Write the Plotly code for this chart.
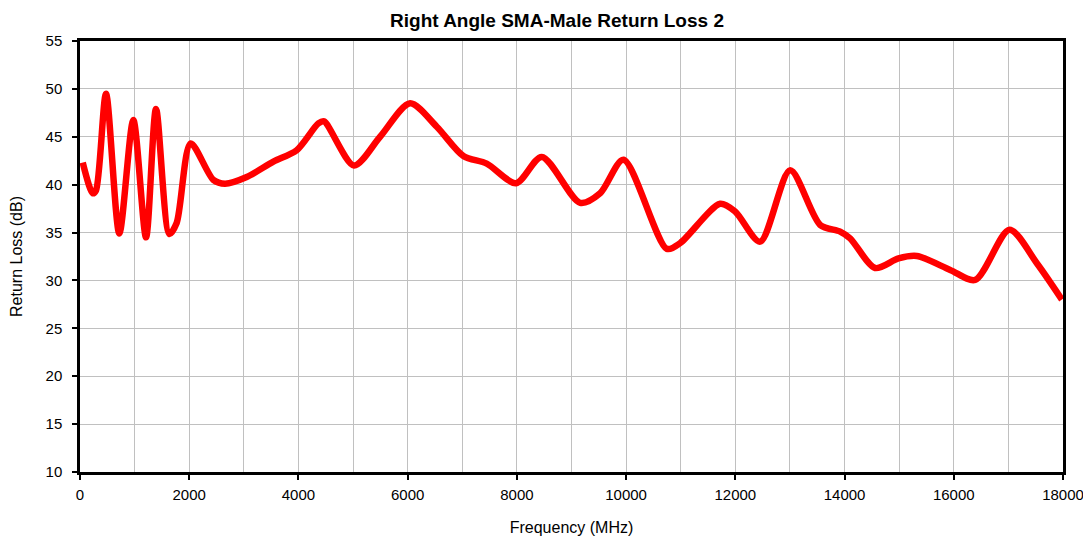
import plotly.graph_objects as go

freq_mhz = [50, 232, 293, 476, 720, 976, 1209, 1392, 1636, 1770, 2027, 2442, 2656,
            3053, 3541, 3968, 4365, 4469, 5018, 5495, 6044, 6533, 7020, 7448, 7985,
            8455, 9158, 9524, 9951, 10745, 10989, 11722, 11996, 12454, 13004, 13553,
            13919, 14102, 14560, 14987, 15323, 15934, 16392, 17020, 17521, 17980]
return_loss_db = [42.3, 39.1, 39.4, 49.5, 34.9, 46.75, 34.5, 47.9, 34.85, 36.0, 44.3,
                  40.5, 40.1, 40.8, 42.4, 43.6, 46.4, 46.6, 42.0, 45.0, 48.5, 46.05,
                  43.0, 42.2, 40.15, 42.9, 38.1, 39.1, 42.6, 33.3, 33.9, 38.0, 37.2,
                  34.05, 41.5, 35.8, 35.1, 34.4, 31.3, 32.3, 32.55, 31.1, 30.05, 35.3,
                  31.8, 28.0]

fig = go.Figure()
fig.add_trace(go.Scatter(
    x=freq_mhz, y=return_loss_db, mode="lines",
    line=dict(color="#ff0000", width=6.5, shape="spline", smoothing=0.8),
    showlegend=False, hoverinfo="x+y",
))

font = "Liberation Sans, Arial, sans-serif"
fig.update_layout(
    width=1091, height=539,
    margin=dict(l=72, r=36, t=33, b=75),
    paper_bgcolor="white", plot_bgcolor="white",
    font=dict(family=font, size=15, color="black"),
    title=dict(text="<b>Right Angle SMA-Male Return Loss 2</b>",
               x=549 / 1091, xanchor="center", y=1 - 12 / 539, yanchor="middle",
               yref="container", xref="container",
               font=dict(size=19, family=font, color="black")),
    xaxis=dict(range=[0, 18000], dtick=2000, tick0=0, tickformat="d",
               automargin=False,
               showgrid=True, gridcolor="#c0c0c0", gridwidth=1,
               minor=dict(dtick=1000, showgrid=True, gridcolor="#c0c0c0", gridwidth=1),
               showline=True, linecolor="black", linewidth=2.5, mirror=True,
               ticks="outside", ticklen=5, tickcolor="black", tickwidth=2,
               ticklabelstandoff=2,
               zeroline=False,
               title=dict(text="Frequency (MHz)", standoff=21,
                          font=dict(size=16, family=font))),
    yaxis=dict(range=[10, 55], dtick=5, tick0=10,
               automargin=False,
               showgrid=True, gridcolor="#c0c0c0", gridwidth=1,
               showline=True, linecolor="black", linewidth=2.5, mirror=True,
               ticks="outside", ticklen=5, tickcolor="black", tickwidth=2,
               ticklabelstandoff=7,
               zeroline=False,
               title=dict(text="Return Loss (dB)", standoff=20,
                          font=dict(size=16, family=font))),
)

fig.write_html("out.html")
